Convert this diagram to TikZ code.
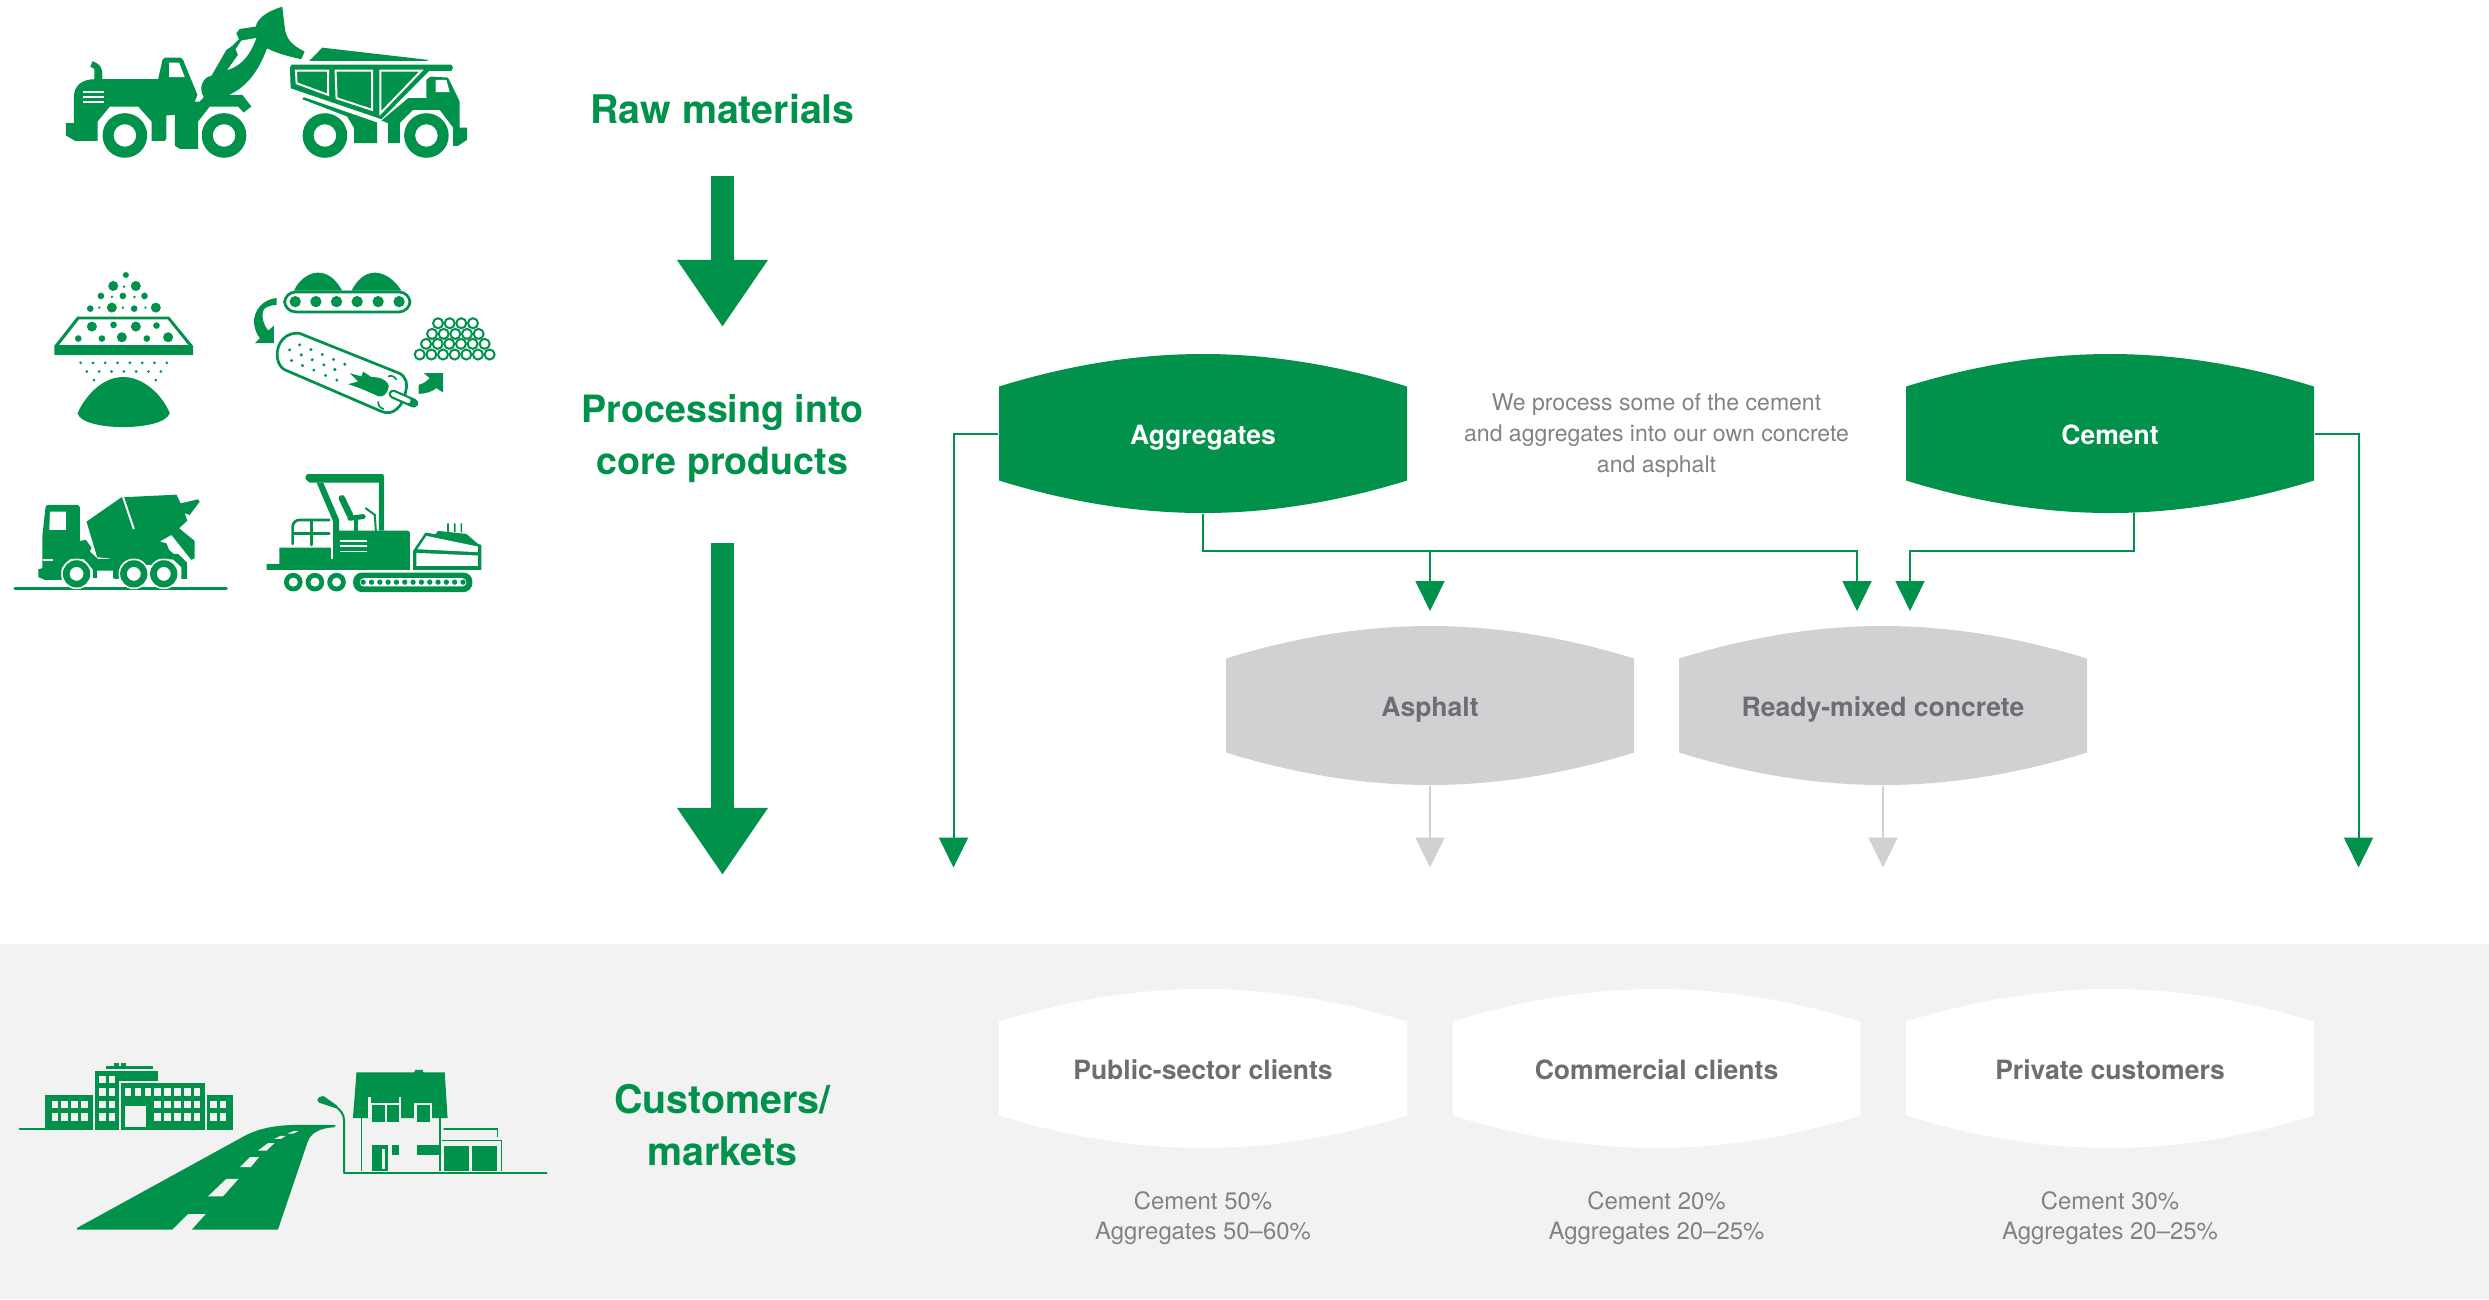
\documentclass[tikz,border=0pt]{standalone}
\usepackage{fontspec}
\setmainfont{TeX Gyre Heros}
\usetikzlibrary{arrows.meta}
\definecolor{coregreen}{RGB}{0,145,75}
\definecolor{lensgray}{RGB}{208,209,211}
\definecolor{bandgray}{RGB}{242,242,242}
\definecolor{labelgray}{RGB}{109,110,113}
\definecolor{notegray}{RGB}{128,130,133}
\newcommand{\lensnode}[6]{%
  \fill[#4,shift={(#2,#3)}]
    (-204,-47) .. controls (-136,-68) and (-68,-79.5) .. (0,-79.5) .. controls (68,-79.5) and (136,-68) .. (204,-47)
    -- (204,47) .. controls (136,68) and (68,79.5) .. (0,79.5) .. controls (-68,79.5) and (-136,68) .. (-204,47) -- cycle;
  \node [lens,#5] (#1) at (#2,#3) {#6};}
\begin{document}
\begin{tikzpicture}[x=0.01cm,y=-0.01cm]
  \tikzstyle{stage}=[font=\fontsize{11.2}{14.8}\selectfont\bfseries,text=coregreen,align=center]
  \tikzstyle{lens}=[minimum width=4.08cm,minimum height=1.59cm,inner sep=0pt,text height=0.84em,text depth=0.2em]
  \tikzstyle{core}=[font=\fontsize{7.55}{9}\selectfont\bfseries,text=white]
  \tikzstyle{derived}=[font=\fontsize{7.55}{9}\selectfont\bfseries,text=labelgray]
  \tikzstyle{note}=[font=\fontsize{6.55}{8.7}\selectfont,text=notegray,align=center]
  \tikzstyle{share}=[font=\fontsize{6.8}{8.7}\selectfont,text=notegray,align=center]
  \tikzstyle{biglink}=[draw=coregreen,line width=0.23cm,-{Triangle[width=0.86cm,length=0.67cm]}]
  \tikzstyle{link}=[draw=coregreen,line width=0.02cm,-{Triangle[width=0.29cm,length=0.3cm]}]
  \tikzstyle{graylink}=[draw=lensgray,line width=0.02cm,-{Triangle[width=0.29cm,length=0.3cm]}]
  \tikzstyle{crop}=[x=0.00333cm,y=-0.00333cm]
  \tikzstyle{icon}=[fill=coregreen,draw=none]
  \tikzstyle{gap}=[fill=white,draw=none]
  \tikzstyle{bandgap}=[fill=bandgray,draw=none]
  \useasboundingbox (0,0) rectangle (2489,1299);
  \fill[bandgray] (0,944) rectangle (2489,1299);

  % stages
  \node [stage] (raw) at (722.5,109) {Raw materials};
  \node [stage,font=\fontsize{10.7}{14.8}\selectfont\bfseries] (processing) at (722.5,438.5) {Processing into\\core products};
  \node [stage] (customers) at (722.5,1125.5) {Customers/\\markets};
  \coordinate (rawstart) at (722.5,176);
  \coordinate (rawend) at (722.5,327);
  \coordinate (procstart) at (722.5,543);
  \coordinate (procend) at (722.5,875);
  \path[biglink] (rawstart) -- (rawend);
  \path[biglink] (procstart) -- (procend);

  % products
  \lensnode{aggregates}{1203}{433.5}{coregreen}{core}{Aggregates}
  \lensnode{cement}{2110}{433.5}{coregreen}{core}{Cement}
  \lensnode{asphalt}{1430}{705.5}{lensgray}{derived}{Asphalt}
  \lensnode{ready}{1883}{705.5}{lensgray}{derived}{Ready-mixed concrete}
  \node [note] (own) at (1656.5,435.5) {We process some of the cement\\and aggregates into our own concrete\\and asphalt};

  \coordinate (aggout) at (953.5,867.5);
  \coordinate (cemout) at (2358.5,867.5);
  \coordinate (aspout) at (1430,867.5);
  \coordinate (rdyout) at (1883,867.5);
  \coordinate (aspin) at (1430,611);
  \coordinate (rdyina) at (1857,611);
  \coordinate (rdyinb) at (1910,611);
  \coordinate (busa) at (1203,551);
  \coordinate (busb) at (2133.5,551);
  \coordinate (cemfoot) at (2133.5,513);

  \path[link] (aggregates.west) -| (aggout);
  \path[link] (cement.east) -| (cemout);
  \path[link] (aggregates.south) -- (busa) -| (rdyina);
  \path[link] (aggregates.south |- busa) -| (aspin);
  \path[link] (cemfoot) -- (busb) -| (rdyinb);
  \path[graylink] (asphalt.south) -- (aspout);
  \path[graylink] (ready.south) -- (rdyout);

  % markets
  \lensnode{public}{1203}{1068.5}{white}{derived}{Public-sector clients}
  \lensnode{commercial}{1656.5}{1068.5}{white}{derived}{Commercial clients}
  \lensnode{private}{2110}{1068.5}{white}{derived}{Private customers}
  \node [share] (publicshare) at (1203,1218) {Cement 50\%\\Aggregates 50--60\%};
  \node [share] (commercialshare) at (1656.5,1218) {Cement 20\%\\Aggregates 20--25\%};
  \node [share] (privateshare) at (2110,1218) {Cement 30\%\\Aggregates 20--25\%};

  % loader
  \begin{scope}[shift={(50,0)},crop]
    \fill[icon] (48,370) -- (72,370) -- (72,290) .. controls (72,255) and (100,238) .. (133,238)
      -- (133,207) -- (121,200) -- (128,184) .. controls (145,190) and (157,200) .. (157,220) -- (157,238)
      -- (325,238) -- (338,180) -- (345,173) -- (392,173) -- (400,180) -- (443,285) -- (435,305) -- (450,305) -- (462,292)
      .. controls (445,265) and (460,230) .. (485,228) -- (530,150) -- (545,140) -- (568,118) -- (560,100) -- (570,87)
      -- (618,80) .. controls (625,50) and (660,32) .. (698,20) -- (705,80) .. controls (708,115) and (725,135) .. (765,155)
      -- (755,178) .. controls (720,170) and (680,160) .. (652,145)
      .. controls (625,220) and (585,265) .. (537,285) -- (578,285) -- (605,320) -- (582,338) -- (565,320) -- (480,320)
      -- (445,365) -- (445,447) -- (390,447) -- (375,438) -- (375,345) -- (350,347) -- (350,415) -- (345,423)
      -- (305,423) -- (305,365) -- (265,320) -- (180,320) -- (143,365) -- (143,423) -- (75,423) -- (48,407) -- cycle;
    \fill[gap] (358,188) -- (388,188) -- (405,232) -- (358,232) -- cycle;
    \fill[gap] (575,122) -- (620,114) .. controls (600,170) and (570,200) .. (533,210) -- (565,165) -- (558,148) -- cycle;
    \foreach \y in {277,291,306} \fill[gap] (100,\y-2.5) rectangle (162,\y+2.5);
    \foreach \x in {225,523} \fill[icon,even odd rule] (\x,407) circle [radius=67] (\x,407) circle [radius=34];
  \end{scope}

  % dumper
  \begin{scope}[shift={(270,30)},crop]
    \fill[icon] (118,93) -- (157,53) -- (477,90) -- (470,93) -- cycle;
    \fill[icon] (60,113) -- (65,104) -- (545,104) -- (550,113) -- (545,123) -- (478,123) -- (335,268) -- (62,175) -- cycle;
    \foreach \p in {{(78,122) -- (175,122) -- (175,195) -- (80,160)},{(197,122) -- (307,122) -- (307,240) -- (200,205)},{(332,122) -- (455,122) -- (332,250)}}
      \draw[white,line width=0.02cm] \p -- cycle;
    \fill[icon] (97,208) -- (102,202) -- (322,278) -- (322,340) -- (253,340) -- (253,295) -- (232,260) -- cycle;
    \fill[icon] (335,272) -- (355,280) -- (355,340) -- (390,340) -- (390,280) -- (430,240) -- (510,240) -- (550,293) -- (550,348)
      -- (565,348) -- (592,330) -- (592,293) -- (570,293) -- (570,215) -- (535,143) -- (482,140) -- (470,150) -- (470,205) -- (415,205) -- cycle;
    \fill[gap] (498,150) -- (530,150) -- (540,187) -- (498,187) -- cycle;
    \foreach \x in {165,470} \fill[icon,even odd rule] (\x,317) circle [radius=67] (\x,317) circle [radius=34];
  \end{scope}

  % screen
  \begin{scope}[shift={(40,260)},crop]
    \fill[icon] (112,170) -- (388,170) -- (460,258) -- (460,285) -- (43,285) -- (43,258) -- cycle;
    \fill[gap] (118,178) -- (383,178) -- (445,255) -- (58,255) -- cycle;
    \fill[icon] (113,460) .. controls (140,400) and (195,350) .. (250,352) .. controls (305,350) and (365,400) .. (390,460)
      .. controls (380,490) and (310,502) .. (250,502) .. controls (190,502) and (120,490) .. (113,460) -- cycle;
    \foreach \x/\y/\r in {258/45/9,220/78/15,288/78/15,183/108/10,249/108/10,314/108/10,151/146/10,216/143/15,283/146/10,348/143/15,
      156/200/15,221/195/10,288/200/15,350/197/10,115/236/10,186/236/10,246/232/15,321/236/10,385/232/15,
      253/80/4,216/111/4,284/111/4,178/143/4,249/143/4,317/143/4}
      \fill[icon] (\x,\y) circle [radius=\r];
    \foreach \x in {122,159,196,233,270,307,344,381} \fill[icon] (\x,309) circle [radius=4.5];
    \foreach \x in {141,178,215,252,289,326,363} \fill[icon] (\x,335) circle [radius=4.5];
    \foreach \x in {162,348} \fill[icon] (\x,361) circle [radius=4.5];
  \end{scope}

  % kiln
  \begin{scope}[shift={(240,260)},crop]
    \fill[icon] (162,92) .. controls (180,55) and (210,38) .. (235,38) .. controls (265,38) and (290,60) .. (307,92)
      -- (335,92) .. controls (352,60) and (375,38) .. (405,38) .. controls (435,38) and (465,60) .. (485,92) -- cycle;
    \draw[coregreen,line width=0.027cm,rounded corners=0.11cm] (134,96) rectangle (511,156);
    \foreach \x in {166,228,290,352,415,478} \fill[icon] (\x,125) circle [radius=17];
    \fill[icon] (110,114) .. controls (70,118) and (40,150) .. (42,190) .. controls (44,205) and (50,225) .. (60,235)
      -- (45,250) -- (102,250) -- (102,197) -- (85,212) .. controls (70,195) and (60,160) .. (75,145)
      .. controls (85,138) and (100,135) .. (110,135) -- cycle;
    \draw[coregreen,line width=0.027cm] (178,220) -- (478,340) .. controls (500,350) and (505,375) .. (498,395)
      .. controls (490,440) and (460,470) .. (425,455) -- (135,330) .. controls (95,310) and (105,215) .. (178,220) -- cycle;
    \fill[icon] (330,340) -- (365,350) -- (370,335) -- (395,352) .. controls (415,350) and (445,360) .. (447,380)
      .. controls (445,400) and (430,412) .. (418,410) -- (360,385) -- (325,373) -- (355,365) -- cycle;
    \draw[coregreen,line width=0.09cm,line cap=round] (460,403) -- (522,430);
    \draw[white,line width=0.045cm,line cap=round] (460,403) -- (506,423);
    \draw[coregreen,line width=0.017cm] (445,350) .. controls (455,345) and (465,350) .. (470,360);
    \draw[coregreen,line width=0.017cm] (415,425) .. controls (415,435) and (420,445) .. (432,448);
    \foreach \x/\y in {149/270,179/255,213/269,247/284,281/299,315/313,155/302,184/285,217/300,252/315,285/329,188/317,222/331,257/347,291/361}
      \fill[icon] (\x,\y) circle [radius=5];
    \foreach \x in {595,630,665,700} \draw[coregreen,line width=0.02cm] (\x,190) circle [radius=15];
    \foreach \x in {577,612,647,682,717} \draw[coregreen,line width=0.02cm] (\x,222) circle [radius=15];
    \foreach \x in {559,594,629,664,699,735} \draw[coregreen,line width=0.02cm] (\x,252) circle [radius=15];
    \foreach \x in {540,575,610,645,680,715,750} \draw[coregreen,line width=0.02cm] (\x,284) circle [radius=15];
    \fill[icon] (537,375) -- (537,402) .. controls (560,402) and (578,395) .. (590,385) -- (610,398) -- (610,340) -- (553,340) -- (570,355)
      .. controls (560,365) and (550,372) .. (537,375) -- cycle;
  \end{scope}

  % mixer
  \begin{scope}[shift={(10,480)},crop]
    \draw[coregreen,line width=0.03cm,line cap=round] (15,325) -- (650,325);
    \fill[icon] (107,80) -- (112,75) -- (205,75) -- (210,82) -- (210,183) -- (228,180) -- (245,203) -- (240,215) -- (265,238)
      -- (325,238) -- (390,238) -- (410,255) -- (425,255) -- (445,238) -- (490,238) -- (515,262) -- (515,297) -- (532,297)
      -- (532,248) -- (505,222) -- (300,222) -- (300,238) -- (222,238) -- (250,270) -- (250,295) -- (262,295) -- (262,272)
      -- (310,272) -- (310,295) -- (320,298) -- (330,295) -- (330,262) -- (355,238) -- (300,238) -- (222,238) -- (180,238)
      -- (155,265) -- (155,300) -- (105,300) -- (85,292) -- (85,268) -- (97,265) -- (97,170) -- cycle;
    \fill[icon] (230,125) -- (335,52) -- (500,44) -- (513,70) -- (565,58) -- (570,65) -- (540,105) -- (525,100) -- (533,122)
      -- (508,145) -- (555,183) -- (555,235) -- (545,240) -- (485,165) -- (450,185) -- (470,190) -- (478,210) -- (510,238)
      -- (340,240) -- (262,232) -- cycle;
    \draw[white,line width=0.02cm] (340,52) -- (372,147);
    \draw[white,line width=0.014cm] (98,240) -- (128,240);
    \fill[gap] (120,95) -- (168,95) -- (168,150) -- (118,150) -- cycle;
    \foreach \x in {200,372,462} {
      \fill[gap] (\x,282) circle [radius=46];
      \fill[icon,even odd rule] (\x,282) circle [radius=41] (\x,282) circle [radius=21];
    }
  \end{scope}

  % paver
  \begin{scope}[shift={(260,465)},crop]
    \fill[icon] (137,33) -- (143,27) -- (368,27) -- (373,33) -- (373,197) -- (357,197) -- (357,53) -- (150,53) -- (137,43) -- cycle;
    \fill[icon] (170,53) -- (190,53) -- (238,165) -- (238,197) -- (445,197) -- (450,203) -- (450,315) -- (20,315) -- (20,297)
      -- (58,297) -- (58,248) -- (213,248) -- (213,283) -- (220,283) -- (220,170) -- cycle;
    \foreach \y in {228,243,260} \fill[gap] (240,\y-2.5) rectangle (320,\y+2.5);
    \draw[coregreen,line width=0.065cm,line cap=round] (246,100) -- (270,150);
    \draw[coregreen,line width=0.05cm,line cap=round] (270,160) -- (310,155);
    \draw[coregreen,line width=0.04cm] (287,165) -- (287,197);
    \draw[coregreen,line width=0.02cm,line cap=round] (318,130) -- (345,150) -- (348,197);
    \draw[coregreen,line width=0.027cm,line cap=round,rounded corners=0.07cm] (98,237) -- (98,165) -- (208,165);
    \draw[coregreen,line width=0.027cm,line cap=round] (100,205) -- (208,205);
    \draw[coregreen,line width=0.027cm,line cap=round] (155,165) -- (155,240);
    \fill[icon] (460,258) -- (497,203) -- (527,208) -- (535,198) -- (620,207) -- (655,237) -- (665,240) -- (665,315) -- (460,315) -- cycle;
    \fill[gap] (473,253) -- (500,213) -- (655,245) -- (655,262) -- cycle;
    \fill[gap] (470,264) -- (655,272) -- (655,303) -- (470,303) -- cycle;
    \foreach \x in {565,585,605}
      \draw[coregreen,line width=0.017cm,line cap=round] (\x,177) .. controls (\x-5,185) and (\x+5,190) .. (\x,200);
    \foreach \x in {100,165,230} \fill[icon,even odd rule] (\x,352) circle [radius=28] (\x,352) circle [radius=14];
    \fill[icon,rounded corners=0.09cm] (280,323) rectangle (638,382);
    \fill[gap,rounded corners=0.04cm] (300,340) rectangle (620,365);
    \foreach \x in {310,335,360,385,410,435,460,485,510,535,560,585,610} \fill[icon] (\x,352) circle [radius=8];
  \end{scope}

  % buildings
  \begin{scope}[shift={(0,1040)},x=0.00357cm,y=-0.00333cm]
    \draw[coregreen,line width=0.02cm,line cap=round] (55,266) -- (130,266);
    \fill[icon] (127,165) rectangle (260,270);
    \fill[icon] (265,93) rectangle (442,123);
    \fill[icon] (265,123) rectangle (333,270);
    \fill[icon] (340,128) rectangle (573,270);
    \fill[icon] (580,165) rectangle (652,270);
    \fill[icon] (298,78) rectangle (428,88);
    \fill[icon] (320,70) rectangle (332,78);
    \fill[icon] (340,70) rectangle (354,78);
    \foreach \y in {182,220} {
      \foreach \x in {145,172,199,227,278,305,432,460,488,516,543,589,615} \fill[bandgap] (\x,\y) rectangle +(18,23);
    }
    \foreach \x in {278,305} {
      \foreach \y in {107,145} \fill[bandgap] (\x,\y) rectangle +(18,23);
    }
    \foreach \x in {349,377,405,432,460,488,516,543} \fill[bandgap] (\x,145) rectangle +(18,23);
    \fill[bandgap] (349,197) rectangle (408,262);
    % road
    \fill[icon] (215,570) -- (482,570) -- (527,522) -- (577,522) -- (537,570) -- (778,570) -- (860,310)
      .. controls (870,275) and (900,265) .. (935,262) -- (940,258) -- (935,255) -- (840,255)
      .. controls (770,255) and (730,265) .. (690,285) -- (215,565) -- cycle;
    \fill[bandgap] (582,470) -- (634,417) -- (668,417) -- (624,470) -- cycle;
    \fill[bandgap] (672,382) -- (700,352) -- (725,352) -- (702,382) -- cycle;
    \fill[bandgap] (722,332) -- (750,310) -- (768,310) -- (747,332) -- cycle;
    \fill[bandgap] (768,297) -- (785,288) -- (800,288) -- (787,297) -- cycle;
    \fill[bandgap] (805,281) -- (820,274) -- (835,274) -- (822,281) -- cycle;
    % lamp and house
    \fill[icon] (893,172) -- (905,168) -- (945,198) -- (940,205) -- (893,188) -- (888,180) -- cycle;
    \draw[coregreen,line width=0.02cm] (963,400) -- (963,240) .. controls (963,225) and (955,212) .. (940,200);
    \draw[coregreen,line width=0.02cm,line cap=round] (963,400) -- (1530,400);
    \fill[icon] (998,97) -- (1160,97) -- (1162,90) -- (1183,90) -- (1185,97) -- (1245,97) -- (1253,235) -- (988,235) -- cycle;
    \fill[bandgap] (1030,170) rectangle (1038,190);
    \fill[bandgap] (1116,170) rectangle (1123,190);
    \fill[bandgap] (1030,190) rectangle (1123,235);
    \fill[bandgap] (1160,190) rectangle (1210,235);
    \fill[icon] (1040,196) rectangle (1078,245);
    \fill[icon] (1082,196) rectangle (1116,245);
    \fill[icon] (1168,196) rectangle (1203,245);
    \draw[coregreen,line width=0.015cm] (1012,235) -- (1012,395);
    \draw[coregreen,line width=0.015cm] (1232,235) -- (1232,395);
    \fill[icon] (1040,316) rectangle (1085,395);
    \fill[bandgap] (1070,328) rectangle (1077,388);
    \fill[icon] (1097,316) rectangle (1116,345);
    \fill[icon] (1168,316) rectangle (1228,345);
    \draw[coregreen,line width=0.015cm] (1236,302) -- (1404,302) -- (1404,395);
    \fill[icon] (1242,318) rectangle (1314,395);
    \fill[icon] (1320,318) rectangle (1392,395);
    \draw[coregreen,line width=0.015cm,line cap=round] (1243,268) -- (1393,268) -- (1393,290);
  \end{scope}
\end{tikzpicture}
\end{document}
